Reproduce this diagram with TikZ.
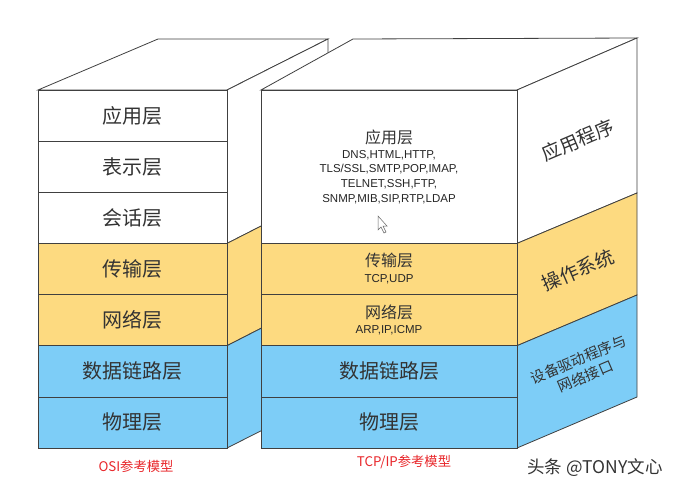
\documentclass[tikz,border=0pt]{standalone}
\usepackage{fontspec}
\setmainfont{Liberation Sans}
\newfontfamily\cjk{Noto Sans CJK SC}
\definecolor{layeryellow}{RGB}{253,218,128}
\definecolor{layerblue}{RGB}{125,205,247}
\definecolor{labelred}{RGB}{232,38,42}

\begin{document}
\begin{tikzpicture}[x=1pt,y=-1pt,
	edge/.style={draw=black!75,line width=0.8pt},
	cnbig/.style={font=\cjk\fontsize{20}{20}\selectfont,text=black!80},
	cnmid/.style={font=\cjk\fontsize{16}{16}\selectfont,text=black!80},
	proto/.style={font=\fontsize{11.5}{14.6}\selectfont,text=black!85,align=center},
	sidetext/.style={font=\cjk\fontsize{19}{19}\selectfont,text=black!80,rotate=23},
	caption/.style={font=\cjk\fontsize{13.3}{13.3}\selectfont,text=labelred}]
	
	\useasboundingbox (0,0) rectangle (682,493);
	
		% OSI box
		\draw [edge,fill=white] (38,90) -- (158,39) -- (328,39) -- (227,90) -- cycle;
		\draw [edge,fill=white] (227,90) -- (328,39) -- (328,192) -- (227,243.4) -- cycle;
		\draw [edge,fill=layeryellow] (227,243.4) -- (328,192) -- (328,294) -- (227,345.7) -- cycle;
		\draw [edge,fill=layerblue] (227,345.7) -- (328,294) -- (328,397) -- (227,448) -- cycle;
		
		\foreach \name/\txt/\col/\top/\bot in {app/应用层/white/90/141.1, pres/表示层/white/141.1/192.3,
			sess/会话层/white/192.3/243.4, trans/传输层/layeryellow/243.4/294.6,
			net/网络层/layeryellow/294.6/345.7, link/数据链路层/layerblue/345.7/396.9,
			phys/物理层/layerblue/396.9/448}{
			\draw [edge,fill=\col] (38,\top) rectangle (227,\bot);
			\node [cnbig] (osi-\name) at (132.5,{(\top+\bot)/2}) {\txt};
		}
		
		% TCP/IP box
		\draw [edge,fill=white] (261,90) -- (353,39) -- (637,38) -- (517,90) -- cycle;
		\draw [edge,fill=white] (517,90) -- (637,38) -- (637,193) -- (517,243.4) -- cycle;
		\draw [edge,fill=layeryellow] (517,243.4) -- (637,193) -- (637,295) -- (517,345.7) -- cycle;
		\draw [edge,fill=layerblue] (517,345.7) -- (637,295) -- (637,397) -- (517,448) -- cycle;
		
		\draw [edge,fill=white] (261,90) rectangle (517,243.4);
		\draw [edge,fill=layeryellow] (261,243.4) rectangle (517,294.6);
		\draw [edge,fill=layeryellow] (261,294.6) rectangle (517,345.7);
		\draw [edge,fill=layerblue] (261,345.7) rectangle (517,396.9);
		\draw [edge,fill=layerblue] (261,396.9) rectangle (517,448);
		
		\node [cnmid] (tcp-app) at (389,137) {应用层};
		\node [proto] (tcp-app-list) at (389,177) {DNS,HTML,HTTP,\\TLS/SSL,SMTP,POP,IMAP,\\TELNET,SSH,FTP,\\SNMP,MIB,SIP,RTP,LDAP};
		\node [cnmid] (tcp-trans) at (389,260) {传输层};
		\node [proto] (tcp-trans-list) at (389,279.5) {TCP,UDP};
		\node [cnmid] (tcp-net) at (389,312) {网络层};
		\node [proto] (tcp-net-list) at (389,330.5) {ARP,IP,ICMP};
		\node [cnbig] (tcp-link) at (389,371) {数据链路层};
		\node [cnbig] (tcp-phys) at (389,422) {物理层};
		
		% side face
		\node [sidetext] (side-app) at (578,140) {应用程序};
		\node [sidetext] (side-os) at (578,270) {操作系统};
		\node [sidetext,font=\cjk\fontsize{14.5}{18}\selectfont,align=center] (side-drv) at (582,368) {设备驱动程序与\\网络接口};
		
		% mouse pointer
		\draw [black!60,fill=white,line width=0.5pt] (378,216) -- (378,230) -- (381,227) -- (384,233) -- (386,232) -- (383,226) -- (387,226) -- cycle;
		
		\node [caption] (osi-cap) at (136,466) {OSI参考模型};
		\node [caption] (tcp-cap) at (404,462) {TCP/IP参考模型};
		\node [font=\cjk\fontsize{17.5}{17.5}\selectfont,text=black!80] (mark) at (595,468) {头条 @TONY文心};
\end{tikzpicture}
\end{document}
